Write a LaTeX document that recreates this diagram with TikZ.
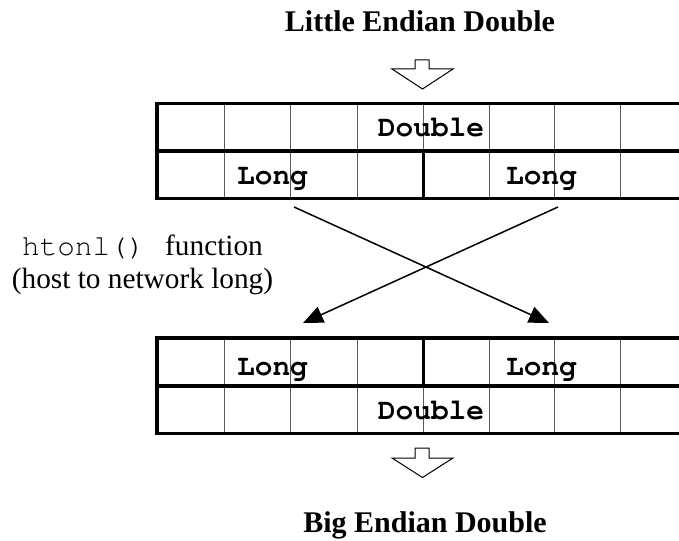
\documentclass[tikz,border=0pt]{standalone}
\usepackage{fontspec}
\setmainfont{Liberation Serif}
\setmonofont{Liberation Mono}
\usetikzlibrary{arrows.meta}
% Courier-style typewriter face from the URW base fonts
\newcommand{\courierface}{\fontencoding{T1}\fontfamily{pcr}\selectfont}
\begin{document}
\begin{tikzpicture}[x=1pt,y=-1pt,
  frame/.style={line width=3.5pt,line join=miter},
  cellsep/.style={line width=1pt,draw=black!65},
  word/.style={font=\fontsize{29.5}{30}\courierface\bfseries,inner sep=0pt,anchor=base},
  title/.style={font=\fontsize{30}{32}\selectfont\bfseries,inner sep=0pt,anchor=base},
  caption/.style={font=\fontsize{29.3}{32}\selectfont,inner sep=0pt,anchor=base},
  swap/.style={line width=1.5pt,-{Triangle[length=20pt,width=17pt]}},
  blockarrow/.style={line width=1pt,line join=miter,fill=white}]
\useasboundingbox (0,0) rectangle (679,540);

% titles
\node[title] (little) at (420,32) {Little Endian Double};
\node[title] (big) at (425,532) {Big Endian Double};

% hollow down arrows
\draw[blockarrow] (415,60) -- (429,60) -- (429,69) -- (453,69) -- (422.5,89)
  -- (392,69) -- (415,69) -- cycle;
\draw[blockarrow] (415,448) -- (429,448) -- (429,458) -- (453,458) -- (422.5,477.5)
  -- (392,458) -- (415,458) -- cycle;

% little endian table: Double row above Long row
\foreach \x in {224,290,357,423,489,554,620}
  \draw[cellsep] (\x,103.5) -- (\x,198.5);
\draw[frame] (681,103.5) -- (157,103.5) -- (157,198.5) -- (681,198.5);
\draw[frame] (157,151) -- (681,151);
\draw[line width=3pt] (423,151) -- (423,198.5);
\node[word] (ldouble) at (431,137) {Double};
\node[word] (llong1) at (272.5,184) {Long};
\node[word] (llong2) at (541.5,184) {Long};

% big endian table: Long row above Double row
\foreach \x in {224,290,357,423,489,554,620}
  \draw[cellsep] (\x,338) -- (\x,433.5);
\draw[frame] (681,338) -- (157,338) -- (157,433.5) -- (681,433.5);
\draw[frame] (157,386) -- (681,386);
\draw[line width=3pt] (423,338) -- (423,386);
\node[word] (blong1) at (272.5,375) {Long};
\node[word] (blong2) at (541.5,375) {Long};
\node[word] (bdouble) at (431,419) {Double};

% swapped halves
\coordinate (ls) at (294,207);
\coordinate (rs) at (558,207);
\coordinate (le) at (303,323);
\coordinate (re) at (549,323);
\draw[swap] (ls) -- (re);
\draw[swap] (rs) -- (le);

% caption
\node[caption,anchor=base west,font=\fontsize{29.3}{32}\courierface] (fnname) at (22,255) {htonl()};
\node[caption,anchor=base west] (fnword) at (165,255) {function};
\node[caption] (fndesc) at (142.5,288) {(host to network long)};
\end{tikzpicture}
\end{document}
